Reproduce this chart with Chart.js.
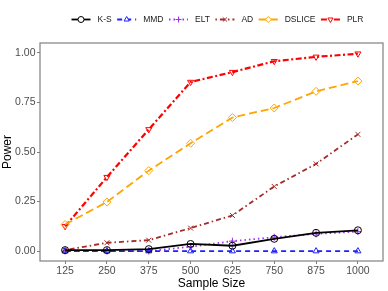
<!DOCTYPE html>
<html>
<head>
<meta charset="utf-8">
<script src="https://cdn.jsdelivr.net/npm/chart.js@4"></script>
<style>
  html, body { margin: 0; padding: 0; background: #fff; }
</style>
</head>
<body>
<canvas id="power-chart" width="388" height="291"></canvas>
<script>
// sample sizes on the x axis
const sampleSizes = [125, 250, 375, 500, 625, 750, 875, 1000]
const yTicks = [0, 0.25, 0.5, 0.75, 1]

// power of each test
const ksPower = [0.005, 0.005, 0.01, 0.036, 0.027, 0.062, 0.092, 0.105]
const mmdPower = [0, 0, 0, 0, 0, 0, 0, 0]
const eltPower = [0, 0, 0, 0.022, 0.05, 0.07, 0.087, 0.098]
const adPower = [0.005, 0.042, 0.055, 0.116, 0.18, 0.326, 0.44, 0.589]
const dslicePower = [0.134, 0.248, 0.406, 0.544, 0.674, 0.722, 0.806, 0.858]
const plrPower = [0.125, 0.373, 0.614, 0.853, 0.903, 0.958, 0.98, 0.996]

const series = [
    { label: "K-S", data: ksPower, color: "#000000", dash: [], point: "circle", rot: 0 },
    { label: "MMD", data: mmdPower, color: "#1f1fff", dash: [5, 4], point: "triangle", rot: 0 },
    { label: "ELT", data: eltPower, color: "#a030f0", dash: [1.5, 3], point: "cross", rot: 0 },
    { label: "AD", data: adPower, color: "#a52a2a", dash: [1.5, 3, 5, 3], point: "crossRot", rot: 0 },
    { label: "DSLICE", data: dslicePower, color: "#ffa500", dash: [8, 4], point: "rectRot", rot: 0 },
    { label: "PLR", data: plrPower, color: "#ff0000", dash: [6, 2.5, 2, 2.5], point: "triangle", rot: 180 }
]

const datasets = series.map(s => ({
    label: s.label,
    data: s.data.map((v, i) => ({ x: sampleSizes[i], y: v })),
    borderColor: s.color,
    backgroundColor: "rgba(0,0,0,0)",
    borderDash: s.dash,
    borderWidth: s.label === "PLR" ? 2.2 : 1.8,
    pointStyle: s.point,
    pointRotation: s.rot,
    pointRadius: s.point === "rectRot" ? 4 : 3.5,
    pointBorderColor: s.color,
    pointBackgroundColor: "rgba(0,0,0,0)",
    pointBorderWidth: 1,
    tension: 0
}))

// panel box and ggplot-like legend
const panelAndLegend = {
    id: "panelAndLegend",
    afterDraw(chart) {
        const ctx = chart.ctx
        const a = chart.chartArea
        ctx.save()
        ctx.strokeStyle = "#808080"
        ctx.lineWidth = 1.2
        ctx.setLineDash([])
        ctx.strokeRect(a.left, a.top, a.right - a.left, a.bottom - a.top)

        ctx.font = "8.5px 'Liberation Sans', Arial, sans-serif"
        ctx.textBaseline = "middle"
        const y = 19.5
        let x = 71.5
        chart.data.datasets.forEach(ds => {
            ctx.strokeStyle = ds.borderColor
            ctx.lineWidth = ds.borderWidth
            ctx.setLineDash(ds.borderDash)
            ctx.beginPath()
            ctx.moveTo(x, y)
            ctx.lineTo(x + 19, y)
            ctx.stroke()
            ctx.setLineDash([])
            ctx.lineWidth = 1
            ctx.fillStyle = "#ffffff"
            Chart.helpers.drawPoint(ctx, {
                pointStyle: ds.pointStyle,
                rotation: ds.pointRotation,
                radius: 3,
                borderWidth: 1
            }, x + 9.5, y)
            ctx.fillStyle = "#1a1a1a"
            ctx.fillText(ds.label, x + 26, y)
            x += 26 + ctx.measureText(ds.label).width + 5.5
        })
        ctx.restore()
    }
}

const tickFont = { family: "'Liberation Sans', Arial, sans-serif", size: 10.5 }

new Chart(document.getElementById("power-chart"), {
    type: "line",
    data: { datasets },
    options: {
        responsive: false,
        animation: false,
        layout: { padding: { top: 43, right: 4, left: 0, bottom: 0 } },
        plugins: { legend: { display: false }, tooltip: { enabled: false } },
        scales: {
            x: {
                type: "linear",
                min: 50,
                max: 1075,
                afterBuildTicks: axis => { axis.ticks = sampleSizes.map(v => ({ value: v })) },
                afterFit: axis => { axis.height = 30 },
                grid: { drawOnChartArea: false, tickLength: 3, color: "#808080", tickWidth: 1 },
                border: { display: false },
                ticks: {
                    color: "#4d4d4d",
                    font: tickFont,
                    padding: 1,
                    maxRotation: 0,
                    autoSkip: false,
                    callback: v => String(v)
                },
                title: {
                    display: true,
                    text: "Sample Size",
                    color: "#000",
                    font: { family: "'Liberation Sans', Arial, sans-serif", size: 12 },
                    padding: { top: 0, bottom: 0 }
                }
            },
            y: {
                min: -0.05,
                max: 1.05,
                afterBuildTicks: axis => { axis.ticks = yTicks.map(v => ({ value: v })) },
                afterFit: axis => { axis.width = 40 },
                grid: { drawOnChartArea: false, tickLength: 3, color: "#808080", tickWidth: 1 },
                border: { display: false },
                ticks: {
                    color: "#4d4d4d",
                    font: tickFont,
                    padding: 1.5,
                    callback: v => v.toFixed(2)
                },
                title: {
                    display: true,
                    text: "Power",
                    color: "#000",
                    font: { family: "'Liberation Sans', Arial, sans-serif", size: 12 },
                    padding: { top: 0, bottom: 2 }
                }
            }
        }
    },
    plugins: [panelAndLegend]
})
</script>
</body>
</html>
